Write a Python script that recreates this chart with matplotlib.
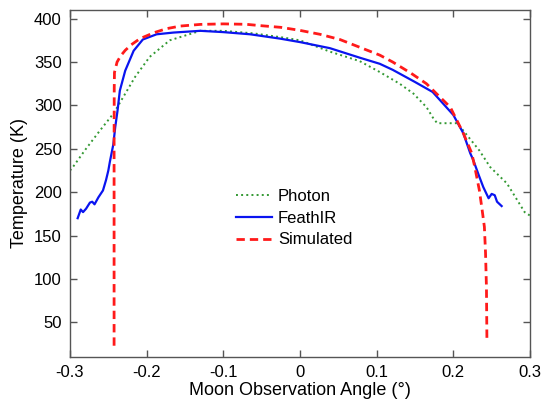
import numpy as np
import matplotlib
matplotlib.use("Agg")
import matplotlib.pyplot as plt

plt.rcParams['font.family'] = ['Liberation Sans', 'DejaVu Sans']

# Photon (green dotted)
photon_x = [-0.300, -0.297, -0.280, -0.261, -0.243, -0.233, -0.215, -0.196, -0.170,
            -0.130, -0.100, -0.060, -0.020, 0.000, 0.039, 0.078, 0.104, 0.130,
            0.148, 0.165, 0.174, 0.179, 0.205, 0.213, 0.234, 0.248, 0.270, 0.293, 0.300]
photon_t = [225, 228, 249, 271, 291, 306, 333, 356, 375,
            386, 386, 383, 378, 375, 362, 351, 338.5, 325,
            313.6, 298, 285, 279.5, 279.5, 271, 248, 229, 210, 177, 173]

# FeathIR (blue solid)
feath_x = [-0.290, -0.286, -0.283, -0.279, -0.274, -0.271, -0.268, -0.263, -0.257,
           -0.253, -0.250, -0.248, -0.2435, -0.241, -0.238, -0.235, -0.228, -0.217,
           -0.205, -0.187, -0.165, -0.130, -0.100, -0.065, -0.026, 0.000, 0.039,
           0.078, 0.104, 0.121, 0.150, 0.173, 0.200, 0.213, 0.222, 0.226, 0.233,
           0.239, 0.246, 0.250, 0.254, 0.257, 0.263]
feath_t = [170, 180, 177, 181, 188, 189, 186, 194, 202,
           214, 225, 235, 255, 275, 294, 317, 340, 363,
           376, 382, 384, 386, 384.5, 382, 377, 373, 366,
           355, 348, 341, 327, 315.5, 289, 268, 245, 237, 220,
           206, 193, 198, 196.5, 189, 184]

# Simulated (red dashed)
sim_x = [-0.2425, -0.2425, -0.2423, -0.2420, -0.2386, -0.2340, -0.2280, -0.2200, -0.2087,
         -0.190, -0.174, -0.156, -0.130, -0.100, -0.070, -0.052, -0.025, 0.000,
         0.026, 0.052, 0.078, 0.104, 0.121, 0.145, 0.165, 0.178, 0.196, 0.213,
         0.224, 0.228, 0.234, 0.2375, 0.2405, 0.2420, 0.2432, 0.2438]
sim_t = [23, 250, 320, 338, 350, 357, 363.5, 370, 377,
         384, 388.5, 391.5, 393.4, 394, 393.5, 392, 390, 386.5,
         382, 376, 367, 358, 350, 337, 325, 313.6, 298, 268,
         245, 229, 202, 180, 160, 130, 90, 30]

fig = plt.figure(figsize=(5.43, 4.0), dpi=100)
ax = fig.add_axes([70/543, 1 - 357/400, 460/543, 347/400])

ax.plot(photon_x, photon_t, color='#339933', linestyle=':', lw=1.4, label='Photon')
ax.plot(feath_x, feath_t, color='#0a14f0', linestyle='-', lw=1.6, label='FeathIR')
ax.plot(sim_x, sim_t, color='#ff1a1a', linestyle=(0, (3, 1.8)), lw=2.0, label='Simulated')

ax.set_xlim(-0.3, 0.3)
ax.set_ylim(10, 410)
ax.set_xticks([-0.3, -0.2, -0.1, 0, 0.1, 0.2, 0.3])
ax.set_xticklabels(['-0.3', '-0.2', '-0.1', '0', '0.1', '0.2', '0.3'])
ax.set_yticks([50, 100, 150, 200, 250, 300, 350, 400])
ax.tick_params(direction='in', top=True, right=True, length=5, width=1,
               color='#555555', labelsize=12, pad=6)
for s in ax.spines.values():
    s.set_color('#555555')
    s.set_linewidth(1)

ax.set_xlabel('Moon Observation Angle (°)', fontsize=13, labelpad=1)
ax.set_ylabel('Temperature (K)', fontsize=13, labelpad=4)

ax.legend(loc='center', bbox_to_anchor=(0.487, 0.40), frameon=False, fontsize=12,
          handlelength=2.2, handletextpad=0.35, labelspacing=0.4)

fig.savefig('out.png', dpi=100)
